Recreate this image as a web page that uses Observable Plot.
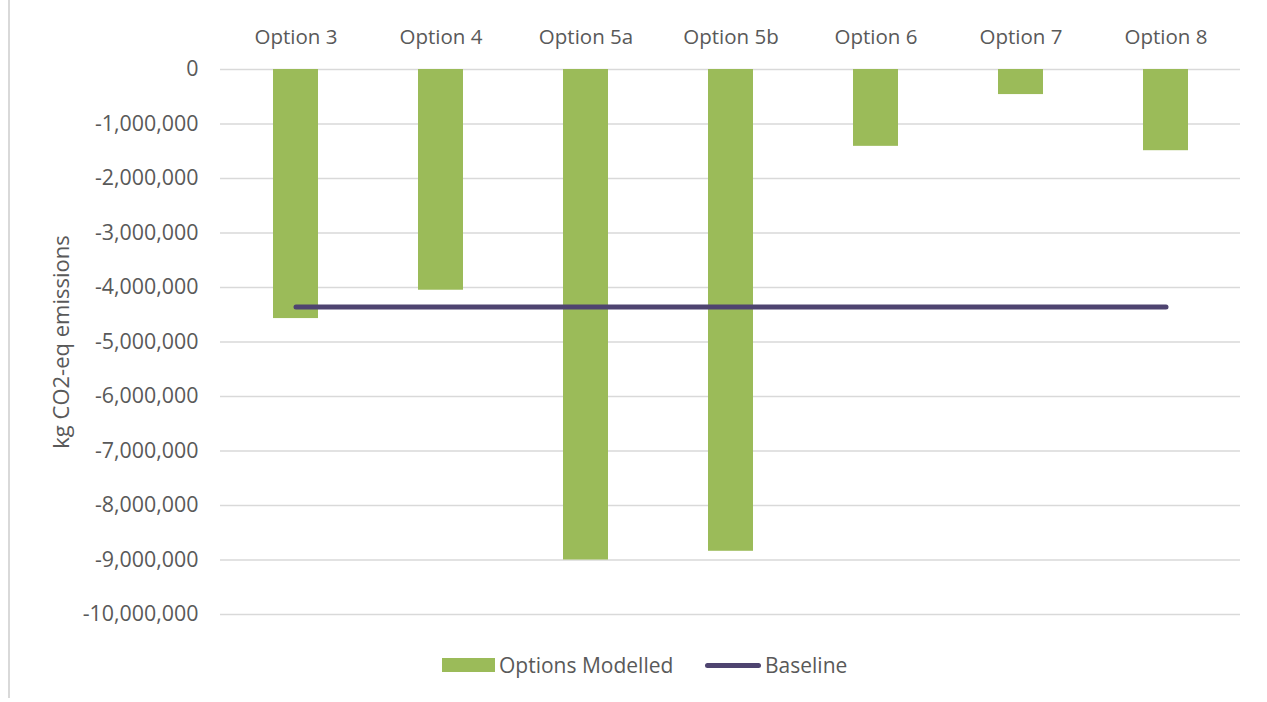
<!DOCTYPE html>
<html>
<head>
<meta charset="utf-8">
<script src="https://cdn.jsdelivr.net/npm/d3@7"></script>
<script src="https://cdn.jsdelivr.net/npm/@observablehq/plot@0.6"></script>
<style>
  html, body { margin: 0; padding: 0; background: #fff; }
  body { width: 1267px; height: 702px; position: relative; overflow: hidden; font-family: "Open Sans", sans-serif; }
  #frame { position: absolute; left: 8px; top: -2px; width: 1300px; height: 700px; border-left: 2px solid #d9d9d9; }
  #chart { position: absolute; left: 0; top: 0; }
  #legend { position: absolute; top: 651px; left: 0; width: 1267px; font-size: 21px; color: #595959; }
  .item { position: absolute; display: flex; align-items: center; }
  .sw-bar { width: 53px; height: 14px; background: #9bbb59; margin-right: 4px; }
  .sw-line { width: 56px; height: 5px; border-radius: 3px; background: #4e4470; margin-right: 4px; }
</style>
</head>
<body>
<div id="frame"></div>
<div id="chart"></div>
<div id="legend">
  <div class="item" style="left:442px;"><div class="sw-bar"></div><span>Options Modelled</span></div>
  <div class="item" style="left:705px;"><div class="sw-line"></div><span>Baseline</span></div>
</div>
<script>
const categories = ["Option 3", "Option 4", "Option 5a", "Option 5b", "Option 6", "Option 7", "Option 8"];
const optionsModelled = [-4570000, -4050000, -9000000, -8840000, -1410000, -460000, -1490000];
const baselineValue = -4360000;
const yTicks = [0, -1000000, -2000000, -3000000, -4000000, -5000000, -6000000, -7000000, -8000000, -9000000, -10000000];

const bars = categories.map((c, i) => ({category: c, value: optionsModelled[i]}));
const baseline = categories.map(c => ({category: c, value: baselineValue}));

const fmt = d3.format(",");
const tickFmt = d => d === 0 ? "0" : fmt(d).replace("\u2212", "-");

const chart = Plot.plot({
  width: 1267,
  height: 640,
  marginLeft: 220,
  marginRight: 27,
  marginTop: 69,
  marginBottom: 26,
  style: {fontFamily: "Open Sans, sans-serif", fontSize: "20.5px", color: "#595959", background: "transparent"},
  x: {domain: categories, paddingInner: 0.69, paddingOuter: 0.345, label: null},
  y: {domain: [-10000000, 0], label: null},
  marks: [
    Plot.gridY(yTicks, {stroke: "#d9d9d9", strokeOpacity: 1, strokeWidth: 1.5}),
    Plot.barY(bars, {x: "category", y: "value", fill: "#9bbb59"}),
    Plot.lineY(baseline, {x: "category", y: "value", stroke: "#4e4470", strokeWidth: 5, strokeLinecap: "round"}),
    Plot.axisY(yTicks, {tickSize: 0, tickPadding: 22, tickFormat: tickFmt, label: null, fontSize: 21.4}),
    Plot.axisX({anchor: "top", tickSize: 0, tickPadding: 26, label: null})
  ]
});
document.getElementById("chart").appendChild(chart);

// Rotated y-axis title
const svg = d3.select(chart);
svg.append("text")
  .attr("transform", "translate(69,342) rotate(-90)")
  .attr("text-anchor", "middle")
  .attr("font-family", "Open Sans, sans-serif")
  .attr("font-size", 22)
  .attr("fill", "#595959")
  .text("kg CO2-eq emissions");
</script>
</body>
</html>
